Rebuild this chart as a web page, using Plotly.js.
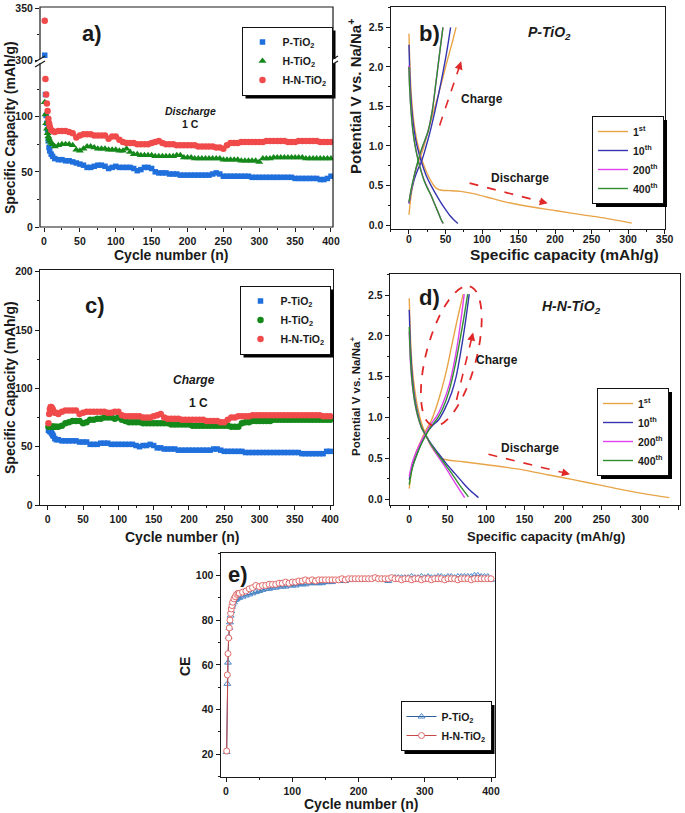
<!DOCTYPE html>
<html><head><meta charset="utf-8">
<script src="https://cdn.plot.ly/plotly-3.0.1.min.js"></script>
<style>html,body{margin:0;padding:0;background:#fff}</style>
</head><body><div id="chart" style="width:685px;height:813px"></div>
<script>
// ---------------- DATA ----------------
// Panels a) and c): sampled cycle numbers
const cyclesAC = [1,2,3,4,5,6,7,8,10,12,15,
 20,25,30,35,40,45,50,55,60,65,70,75,80,85,90,95,100,105,110,115,120,125,130,135,140,145,150,
 155,160,165,170,175,180,185,190,195,200,205,210,215,220,225,230,235,240,245,250,255,260,265,270,
 275,280,285,290,295,300,305,310,315,320,325,330,335,340,345,350,355,360,365,370,375,380,385,390,395,400];

// a) discharge capacity (mAh/g)
const dischargeP = [305,120,101,94,88,78,72,69,66,64,62,
 61,61,60,60,59,58,57,56,54,54,55,56,56,55,53,54,55,54,54,54,54,53,51,52,54,54,53,
 50,49,49,49,48,48,48,47,47,47,47,47,47,47,47,47,48,49,48,46,46,46,46,46,
 46,46,46,45,45,45,45,45,45,45,45,45,45,45,45,44,44,44,44,44,44,44,43,43,44,46,47];
const dischargeH = [113,102,94,89,85,82,80,78,76,75,73,
 74,75,75,75,74,70,69,71,73,73,72,71,71,71,70,70,70,69,69,71,68,66,66,65,65,65,65,
 64,64,64,64,64,64,65,65,63,63,63,62,62,62,62,62,62,62,62,61,61,61,61,61,
 60,60,60,60,60,59,62,62,62,63,63,63,63,63,63,63,63,63,62,62,62,62,62,62,62,62];
const dischargeHN = [338,134,120,112,105,98,94,91,88,87,86,
 87,87,87,86,85,81,83,84,84,84,83,83,83,83,80,82,82,79,77,76,76,76,75,75,75,75,76,
 77,78,76,75,75,75,74,74,74,74,74,74,73,73,73,73,73,72,72,71,74,76,76,76,
 77,77,77,77,77,77,77,78,78,78,78,78,78,77,77,77,78,78,78,78,78,78,77,77,77,77];

// c) charge capacity (mAh/g)
const chargeP = [64,64,63,63,62,61,60,59,57,56,56,
 55,55,55,55,55,54,54,54,52,52,52,53,53,53,52,52,52,52,52,52,52,51,50,51,51,52,51,
 49,49,48,48,48,48,47,47,47,47,47,47,47,47,47,47,48,48,47,46,46,46,46,46,
 46,45,45,45,45,45,45,45,45,45,45,45,45,45,45,45,45,44,44,44,44,44,44,44,46,46];
const chargeH = [67,67,67,67,67,67,67,67,67,67,67,
 68,70,71,72,72,72,70,71,73,73,74,74,75,75,75,74,75,73,72,71,71,71,71,70,70,70,70,
 70,70,70,70,69,69,69,69,69,69,68,68,68,68,68,68,68,68,68,68,68,67,67,67,
 70,71,71,72,72,72,72,72,72,73,73,73,73,73,73,73,73,73,73,73,73,73,73,73,73,73];
const chargeHN = [70,78,82,84,84,83,82,80,79,79,78,
 80,81,81,81,81,78,79,80,80,80,80,80,80,79,79,80,80,77,76,76,76,76,76,75,75,75,76,
 77,78,75,74,74,74,74,73,73,73,73,73,73,73,72,72,72,72,71,71,73,75,75,76,
 76,76,76,77,77,77,77,77,77,77,77,77,77,77,77,77,77,77,77,77,77,77,77,76,76,76];

// b) P-TiO2 voltage profiles: capacity (mAh/g) and potential (V)
const bCap1D = [0,1,2,4,7,11,16,21,26,30,34,38,45,55,65,75,90,110,133,160,202,240,270,305];
const bV1D   = [2.42,2.1,1.85,1.55,1.28,1.06,0.88,0.74,0.63,0.56,0.5,0.46,0.44,0.435,0.43,0.42,0.395,0.345,0.29,0.24,0.18,0.125,0.085,0.025];
const bCap1C = [0,3,6,10,15,20,26,32,40,46,53,59,64.5];
const bV1C   = [0.13,0.38,0.55,0.72,0.85,0.98,1.18,1.38,1.64,1.85,2.1,2.3,2.5];
const bCap10D = [0,1,2,4,7,11,17,23,29,35,42,49,56,62,67];
const bV10D   = [2.28,1.95,1.72,1.45,1.2,1.0,0.8,0.64,0.52,0.42,0.31,0.21,0.12,0.06,0.02];
const bCap10C = [0,3,7,12,17,23,30,37,44,50,54,57];
const bV10C   = [0.27,0.42,0.57,0.7,0.8,0.98,1.22,1.5,1.81,2.1,2.32,2.5];
const bCap200D = [0,1,3,5,8,12,16,20,25,30,35,40,44,46.5];
const bV200D   = [2.02,1.74,1.44,1.24,1.03,0.85,0.71,0.59,0.48,0.38,0.27,0.16,0.07,0.02];
const bCap200C = [0,3,7,12,18,26,32,37,41,44,46.5];
const bV200C   = [0.28,0.44,0.61,0.79,0.97,1.18,1.45,1.8,2.1,2.32,2.5];
const bCap400D = [0,1,3,5,8,12,16,20,25,30,35,40,44,47];
const bV400D   = [2.0,1.72,1.42,1.22,1.02,0.84,0.7,0.58,0.47,0.38,0.27,0.16,0.07,0.02];
const bCap400C = [0,3,7,12,18,26,32,37,41,44,46.5];
const bV400C   = [0.29,0.45,0.62,0.8,0.98,1.18,1.45,1.81,2.1,2.32,2.5];

// d) H-N-TiO2 voltage profiles
const dCap1D = [0,1,2,4,7,11,16,22,29,36,42,50,70,103,148,180,213,250,278,310,338];
const dV1D   = [2.46,2.15,1.9,1.6,1.35,1.12,0.93,0.78,0.64,0.55,0.5,0.48,0.46,0.42,0.36,0.3,0.24,0.17,0.115,0.06,0.02];
const dCap1C = [0,3,8,16,22,29,36,42,49,55,62,70];
const dV1C   = [0.13,0.35,0.55,0.73,0.85,0.97,1.15,1.34,1.6,1.87,2.18,2.51];
const dCap10D = [0,1,2,4,7,11,16,20,27,38,48,59,70,80,90];
const dV10D   = [2.32,2.0,1.78,1.5,1.25,1.05,0.88,0.81,0.7,0.56,0.44,0.32,0.2,0.1,0.02];
const dCap10C = [0,4,10,16,22.5,30,38,46,55,61,66,72,78];
const dV10C   = [0.24,0.4,0.55,0.7,0.81,0.9,0.97,1.1,1.3,1.5,1.75,2.1,2.51];
const dCap200D = [0,1,2,4,7,11,16,21,27,35,45,55,65,72];
const dV200D   = [2.05,1.8,1.62,1.4,1.2,1.02,0.88,0.79,0.68,0.56,0.42,0.27,0.12,0.02];
const dCap200C = [0,4,10,16,22,28,36,44,52,59,64,68,71.5];
const dV200C   = [0.28,0.45,0.6,0.72,0.82,0.92,1.02,1.18,1.4,1.7,1.98,2.25,2.51];
const dCap400D = [0,1,2,4,7,11,16,21,27,35,45,55,65,77];
const dV400D   = [2.11,1.85,1.65,1.42,1.2,1.02,0.88,0.79,0.69,0.58,0.45,0.32,0.18,0.03];
const dCap400C = [0,4,10,16,22,28,36,44,52,60,66,71,76];
const dV400C   = [0.18,0.38,0.55,0.68,0.79,0.89,0.98,1.12,1.33,1.65,1.95,2.22,2.51];

// e) Coulombic efficiency (%)
const cyclesE = [1,2,3,4,5,6,7,8,9,10,12,14,16,18,
 20,25,30,35,40,45,50,55,60,65,70,75,80,85,90,95,100,105,110,115,120,125,130,135,140,145,150,
 155,160,165,170,175,180,185,190,195,200,205,210,215,220,225,230,235,240,245,250,255,260,265,270,
 275,280,285,290,295,300,305,310,315,320,325,330,335,340,345,350,355,360,365,370,375,380,385,390,395,400];
const ceP = [21,51.5,61,72.5,76.5,79,82,84,86,87,88,89,89.5,90,
 90,90.5,91,91.5,92,92.5,93,93.5,94,94,94.5,94.5,95,95,95,95.5,95.5,95.5,96,96,96,96.5,96.5,96.5,96.5,96.5,97,
 97,97,97.5,97.5,97.5,97.5,98,98,98,98,98,98,98.5,98.5,98.5,98.5,98.5,98,97.5,98.5,99,99,99,99,
 99,99.5,99,99,99.5,99,99.5,99,99,99.5,99.5,99,99.5,99.5,99,99.5,99.5,99.5,99.5,99.5,100,100,99.5,99.5,99.5,98];
const ceHN = [21.5,55.5,65,72,76.5,80,83,85,86.5,88,89.5,90.5,91.5,92,
 92,92.5,93,94,94.5,95.5,95,95.5,95.5,96,96,96,96.5,96.5,97,96.5,97,97,97.5,97.5,98,97.5,98,97.5,98,98,98,
 98,98,98,98,98.5,98,98.5,98.5,98.5,98.5,98.5,98.5,98.5,98.5,99,98.5,98.5,98.5,98.5,99,98.5,98.5,98,98.5,
 98.5,98,98.5,98.5,98,98.5,98.5,98,98.5,98.5,98.5,98,98.5,98.5,98.5,98,98.5,98.5,98.5,98,98.5,98.5,98.5,98.5,98.5,98.5];

const seriesNames = ['P-TiO<sub>2</sub>','H-TiO<sub>2</sub>','H-N-TiO<sub>2</sub>'];
const cycleLabels = ['1<sup>st</sup>','10<sup>th</sup>','200<sup>th</sup>','400<sup>th</sup>'];

// ---------------- STYLE ----------------
const W=685, H=813;
const F='Arial, "Liberation Sans", Helvetica, sans-serif';
const PX=p=>p/W, PY=p=>1-p/H;
const BLUE='#1f6fdc', GREEN='#15881a', RED='#f04a4a';
const C1='#e8a448', C10='#3434b0', C200='#e040ee', C400='#2f8f2f';
const ARROW='#e02828';
const INK='#1a1a1a';

const traces=[];
// a) broken axis: values above 150 go to the upper segment
const aSets=[[dischargeP,BLUE,'square',5.5],[dischargeH,GREEN,'triangle-up',7],[dischargeHN,RED,'circle',6.5]];
aSets.forEach((s,i)=>{
  const xl=[],yl=[],xu=[],yu=[];
  s[0].forEach((v,k)=>{ if(v>150){xu.push(cyclesAC[k]);yu.push(v);} else {xl.push(cyclesAC[k]);yl.push(v);} });
  traces.push({type:'scatter',mode:'markers',x:xl,y:yl,xaxis:'x',yaxis:'y',name:seriesNames[i],legend:'legend',legendgroup:'a'+i,
    marker:{color:s[1],symbol:s[2],size:s[3]}});
  traces.push({type:'scatter',mode:'markers',x:xu,y:yu,xaxis:'x',yaxis:'y2',showlegend:false,legendgroup:'a'+i,
    marker:{color:s[1],symbol:s[2],size:s[3]}});
});
// c)
[[chargeP,BLUE,'square',5.5],[chargeH,GREEN,'circle',6.5],[chargeHN,RED,'circle',6.5]].forEach((s,i)=>{
  traces.push({type:'scatter',mode:'markers',x:cyclesAC,y:s[0],xaxis:'x3',yaxis:'y4',name:seriesNames[i],legend:'legend3',
    marker:{color:s[1],symbol:s[2],size:s[3]}});
});
// b) and d) profiles (discharge + charge joined by a gap)
function prof(cd,vd,cc,vc){ return {x:cd.concat([null],cc), y:vd.concat([null],vc)}; }
const bSets=[prof(bCap1D,bV1D,bCap1C,bV1C),prof(bCap10D,bV10D,bCap10C,bV10C),prof(bCap200D,bV200D,bCap200C,bV200C),prof(bCap400D,bV400D,bCap400C,bV400C)];
const dSets=[prof(dCap1D,dV1D,dCap1C,dV1C),prof(dCap10D,dV10D,dCap10C,dV10C),prof(dCap200D,dV200D,dCap200C,dV200C),prof(dCap400D,dV400D,dCap400C,dV400C)];
const pc=[C1,C10,C200,C400];
bSets.forEach((s,i)=>traces.push({type:'scatter',mode:'lines',x:s.x,y:s.y,xaxis:'x2',yaxis:'y3',name:cycleLabels[i],legend:'legend2',
  connectgaps:false,line:{color:pc[i],width:1.4,shape:'spline',smoothing:0.8}}));
dSets.forEach((s,i)=>traces.push({type:'scatter',mode:'lines',x:s.x,y:s.y,xaxis:'x4',yaxis:'y5',name:cycleLabels[i],legend:'legend4',
  connectgaps:false,line:{color:pc[i],width:1.4,shape:'spline',smoothing:0.8}}));
// e)
traces.push({type:'scatter',mode:'lines+markers',x:cyclesE,y:ceP,xaxis:'x5',yaxis:'y6',name:seriesNames[0],legend:'legend5',
  line:{color:'#2f5f9a',width:1},marker:{symbol:'triangle-up-open',size:6,color:'#4a86c8',line:{width:1}}});
traces.push({type:'scatter',mode:'lines+markers',x:cyclesE,y:ceHN,xaxis:'x5',yaxis:'y6',name:seriesNames[2],legend:'legend5',
  line:{color:'#c84848',width:1},marker:{symbol:'circle',size:6,color:'#ffffff',line:{color:'#e06a6a',width:1}}});

// ---------------- LAYOUT ----------------
function axis(dom,rng,dtick,mdt,anchor,extra){
  return Object.assign({domain:dom,range:rng,anchor:anchor,tickmode:'linear',tick0:0,dtick:dtick,
    showgrid:false,zeroline:false,showline:true,mirror:true,linecolor:INK,linewidth:1.2,
    ticks:'outside',ticklen:4,tickwidth:1,tickcolor:INK,
    minor:{ticks:'outside',ticklen:2,tickcolor:INK,dtick:mdt,tick0:0,showgrid:false},
    tickfont:{family:F,size:10.5,color:INK,weight:'bold'},fixedrange:true},extra||{});
}
// legends are centred on the reference legend boxes; est = estimated drawn size for the fallback shadow
const legendSpecs=[['legend',287,61,94,65],['legend2',628,160,70,86],['legend3',285,320,93,65],['legend4',633,432,66,86],['legend5',446,726,93,44]];
function leg(x,y){
  return {x:PX(x),y:PY(y),xanchor:'center',yanchor:'middle',bgcolor:'#ffffff',bordercolor:'#111',borderwidth:1,
    font:{family:F,size:10.5,color:INK,weight:'bold'},tracegroupgap:0,itemwidth:30};
}
function txt(text,x,y,size,extra){
  return Object.assign({xref:'paper',yref:'paper',x:PX(x),y:PY(y),text:text,showarrow:false,xanchor:'center',yanchor:'middle',
    font:{family:F,size:size,color:INK,weight:'bold'}},extra||{});
}
const annotations=[
  txt('a)',92,33,22), txt('b)',429,33,22), txt('c)',95,305,22), txt('d)',429,298,22), txt('e)',238,574,22),
  txt('<i>Discharge</i>',190,111,10.5), txt('1 C',190,124,10.5),
  txt('<i>P-TiO<sub>2</sub></i>',549,33,14), txt('Charge',482,99,12), txt('Discharge',520,178,12),
  txt('<i>Charge</i>',194,380,12), txt('1 C',198,403,12),
  txt('<i>H-N-TiO<sub>2</sub></i>',571,307,14), txt('Charge',497,360,12), txt('Discharge',530,448,12),
  // axis titles
  txt('Cycle number (n)',171,255,14), txt('Specific Capacity (mAh/g)',10,128,14,{textangle:-90}),
  txt('Specific capacity (mAh/g)',564,254,15.5), txt('Potential V vs. Na/Na<sup>+</sup>',355,97,15,{textangle:-90}),
  txt('Cycle number (n)',182,537,14), txt('Specific Capacity (mAh/g)',10,388,14,{textangle:-90}),
  txt('Specific capacity (mAh/g)',546,536,13), txt('Potential V vs. Na/Na<sup>+</sup>',355,397,11.5,{textangle:-90}),
  txt('Cycle number (n)',361,804,14), txt('CE',185,667,14,{textangle:-90})
];
const shapes=[
  // frame of broken-axis panel a
  {type:'rect',xref:'paper',yref:'paper',x0:PX(40),x1:PX(333),y0:PY(227),y1:PY(7),line:{color:INK,width:1.2}},
];
// axis break marks
[40,333].forEach(xp=>{
  shapes.push({type:'rect',xref:'paper',yref:'paper',x0:PX(xp-3),x1:PX(xp+3),y0:PY(63),y1:PY(59),fillcolor:'#fff',line:{width:0}});
  [59,64].forEach(yp=>shapes.push({type:'line',xref:'paper',yref:'paper',x0:PX(xp-5),y0:PY(yp+3),x1:PX(xp+5),y1:PY(yp-3),line:{color:INK,width:1.2}}));
});
// dashed arrows
function dashArrow(xr,yr,x0,y0,x1,y1){
  shapes.push({type:'line',xref:xr,yref:yr,x0:x0,y0:y0,x1:x0+(x1-x0)*0.9,y1:y0+(y1-y0)*0.9,line:{color:ARROW,width:1.6,dash:'dash'}});
  annotations.push({xref:xr,yref:yr,axref:xr,ayref:yr,x:x1,y:y1,ax:x1-(x1-x0)*0.12,ay:y1-(y1-y0)*0.12,text:'',showarrow:true,
    arrowhead:2,arrowsize:1,arrowwidth:1.6,arrowcolor:ARROW});
}
dashArrow('x2','y3',42,1.26,71.5,2.07);
dashArrow('x2','y3',83,0.53,190,0.275);
dashArrow('x4','y5',61.5,1.215,83,2.04);
dashArrow('x4','y5',103,0.55,209,0.306);
// dashed ellipse around charge curves in d)
(function(){
  const cx=451.3, cy=356, a=72, b=25, ux=0.2566, uy=-0.9665, vx=0.9665, vy=0.2566;
  let p='';
  for(let k=0;k<=60;k++){
    const t=2*Math.PI*k/60, xx=cx+a*Math.cos(t)*ux+b*Math.sin(t)*vx, yy=cy+a*Math.cos(t)*uy+b*Math.sin(t)*vy;
    p+=(k?'L':'M')+PX(xx).toFixed(5)+','+PY(yy).toFixed(5);
  }
  shapes.push({type:'path',xref:'paper',yref:'paper',path:p+'Z',line:{color:ARROW,width:1.8,dash:'dash'}});
})();
function shadowRect(l,t,r,b){
  return {type:'rect',xref:'paper',yref:'paper',layer:'above',x0:PX(l+3.5),x1:PX(r+3.5),y0:PY(b+3.5),y1:PY(t+3.5),fillcolor:'#000',line:{width:0}};
}
const fallbackShadows=legendSpecs.map(s=>shadowRect(s[1]-s[3]/2,s[2]-s[4]/2,s[1]+s[3]/2,s[2]+s[4]/2));

const layout={
  width:W,height:H,margin:{l:0,r:0,t:0,b:0},paper_bgcolor:'#fff',plot_bgcolor:'#fff',showlegend:true,
  font:{family:F,color:INK},
  xaxis:axis([PX(40),PX(333)],[-5.6,402.8],50,25,'y',{showline:false}),
  yaxis:axis([PY(227),PY(62)],[0,149.5],50,25,'x',{showline:false}),
  yaxis2:axis([PY(61),PY(7)],[299.5,351],50,25,'x',{showline:false}),
  xaxis2:axis([PX(390.7),PX(665)],[-25,350.5],50,25,'y3',{ticklabelstandoff:-4}),
  yaxis3:axis([PY(229),PY(7)],[-0.05,2.757],0.5,0.25,'x2',{tickformat:'.1f'}),
  xaxis3:axis([PX(40),PX(333)],[-11,404],50,25,'y4'),
  yaxis4:axis([PY(505),PY(270)],[0,201.5],50,25,'x3'),
  xaxis4:axis([PX(390),PX(680)],[-25,352],50,25,'y5'),
  yaxis5:axis([PY(505),PY(274)],[-0.07,2.757],0.5,0.25,'x4',{tickformat:'.1f'}),
  xaxis5:axis([PX(220.7),PX(495)],[-8,406],100,50,'y6'),
  yaxis6:axis([PY(776.7),PY(553)],[10,110],20,10,'x5'),
  annotations:annotations, shapes:fallbackShadows.concat(shapes)
};
legendSpecs.forEach(s=>{ layout[s[0]]=leg(s[1],s[2]); });

const gd=document.getElementById('chart');
function fitShadows(){
  // black drop shadow behind each legend box, sized from the drawn legend
  const base=gd.getBoundingClientRect(), out=[];
  gd.querySelectorAll('.infolayer > g').forEach(g=>{
    const cls=(g.getAttribute('class')||'');
    if(!/^legend\d*$/.test(cls)) return;
    const r=g.querySelector(':scope > rect.bg'); if(!r) return;
    const b=r.getBoundingClientRect(); if(!b.width) return;
    out.push(shadowRect(b.left-base.left,b.top-base.top,b.right-base.left,b.bottom-base.top));
  });
  if(out.length===legendSpecs.length) Plotly.relayout(gd,{shapes:out.concat(shapes)});
}
const pr=Plotly.newPlot(gd,traces,layout,{displayModeBar:false,staticPlot:true});
try{ fitShadows(); }catch(e){}
if(pr && pr.then) pr.then(()=>{ try{ fitShadows(); }catch(e){} });
</script></body></html>
